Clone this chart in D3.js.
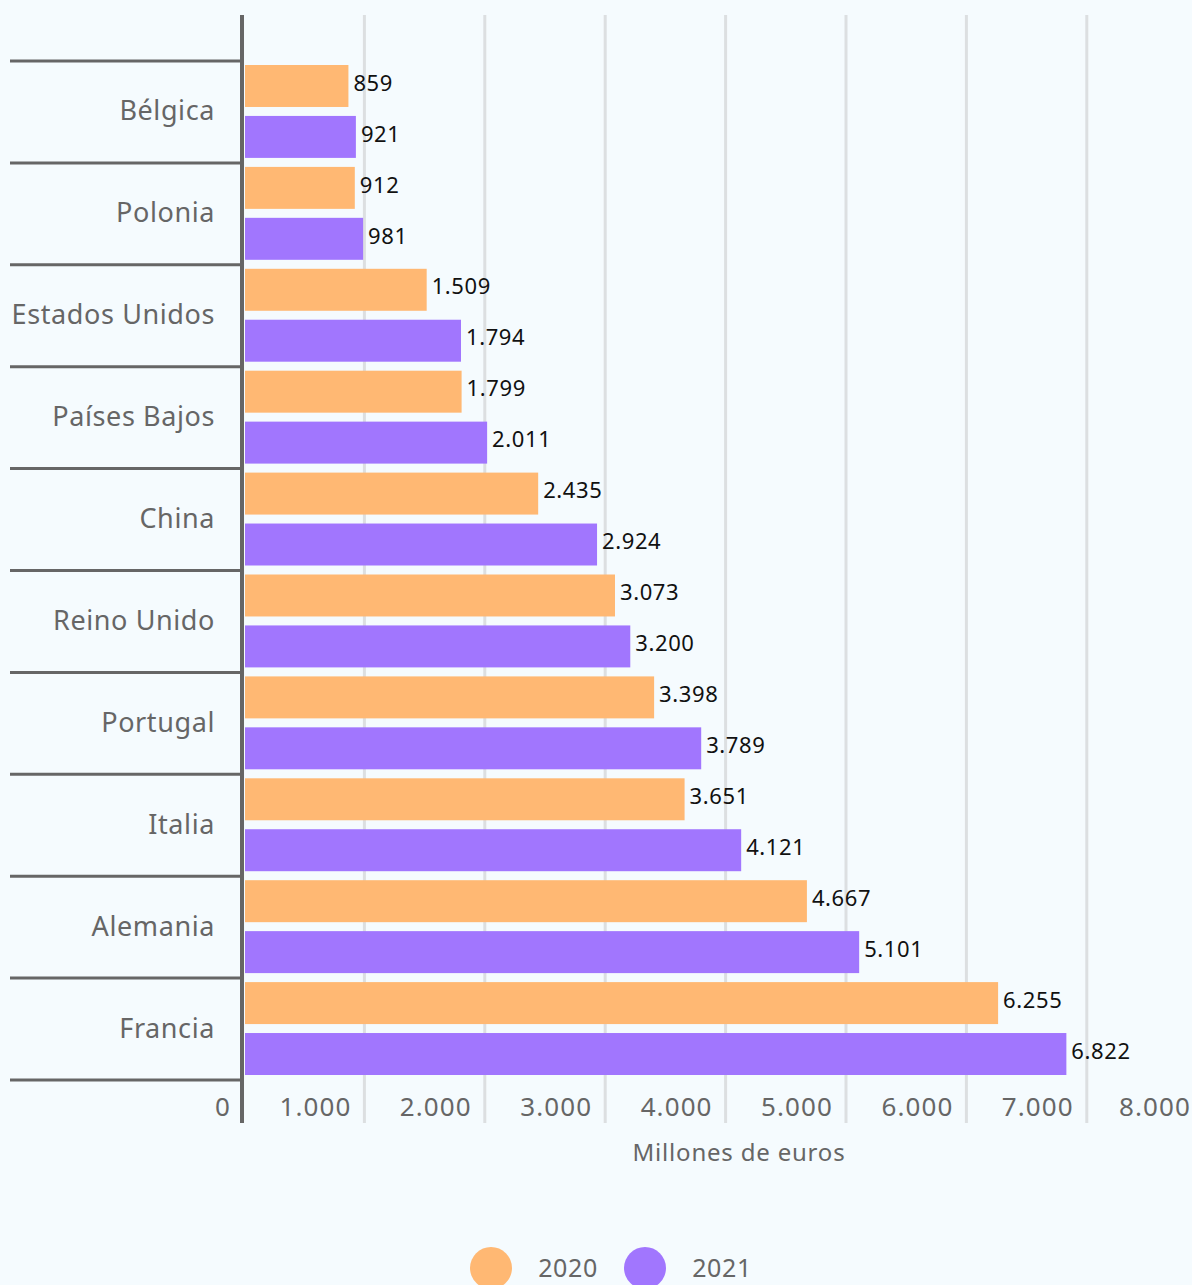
<!DOCTYPE html>
<html>
<head>
<meta charset="utf-8">
<script src="https://cdn.jsdelivr.net/npm/d3@7"></script>
<style>
  body { margin: 0; background: #f5fbfe; }
  svg { display: block; font-family: "Noto Sans", "Open Sans", sans-serif; }
</style>
</head>
<body>
<div id="chart"></div>
<script>
let width = 1192;
let height = 1285;

let countries = ["Bélgica", "Polonia", "Estados Unidos", "Países Bajos", "China",
  "Reino Unido", "Portugal", "Italia", "Alemania", "Francia"];
let years = ["2020", "2021"];
let values2020 = [859, 912, 1509, 1799, 2435, 3073, 3398, 3651, 4667, 6255];
let values2021 = [921, 981, 1794, 2011, 2924, 3200, 3789, 4121, 5101, 6822];
let xTicks = [0, 1000, 2000, 3000, 4000, 5000, 6000, 7000, 8000];
let colors = ["#ffb873", "#a176fe"];

let plotLeft = 245;
let plotTop = 61;
let plotBottom = 1080;

let fmt = d => d3.format(",")(d).replace(/,/g, ".");

let svg = d3.select("#chart")
  .append("svg")
  .attr("width", width)
  .attr("height", height);

let x = d3.scaleLinear().domain([0, 8000]).range([plotLeft, plotLeft + 8 * 120.4]);

let y = d3.scaleBand().domain(countries).range([plotTop, plotBottom]);

let inner = d3.scaleBand().domain(years).range([4, y.bandwidth() - 5]).paddingInner(0.176);

// grid lines
svg.append("g")
  .selectAll("line")
  .data(xTicks.slice(1))
  .join("line")
  .attr("x1", d => x(d) - 1).attr("x2", d => x(d) - 1)
  .attr("y1", 15).attr("y2", 1123)
  .attr("stroke", "#dcdfe1")
  .attr("stroke-width", 3);

// category separators
svg.append("g")
  .selectAll("line")
  .data(countries.concat(["end"]))
  .join("line")
  .attr("x1", 10).attr("x2", 242)
  .attr("y1", (d, i) => i < countries.length ? y(d) : plotBottom)
  .attr("y2", (d, i) => i < countries.length ? y(d) : plotBottom)
  .attr("stroke", "#666")
  .attr("stroke-width", 3);

// bars
let series = [values2020, values2021];
let groups = svg.append("g")
  .selectAll("g")
  .data(countries)
  .join("g")
  .attr("transform", d => "translate(0," + y(d) + ")");

groups.selectAll("rect")
  .data((d, i) => years.map((yr, j) => ({ yr: yr, v: series[j][i], j: j })))
  .join("rect")
  .attr("x", x(0))
  .attr("y", d => inner(d.yr))
  .attr("width", d => x(d.v) - x(0))
  .attr("height", inner.bandwidth())
  .attr("fill", d => colors[d.j]);

groups.selectAll("text.val")
  .data((d, i) => years.map((yr, j) => ({ yr: yr, v: series[j][i], j: j })))
  .join("text")
  .attr("class", "val")
  .attr("x", d => x(d.v) + 5)
  .attr("y", d => inner(d.yr) + inner.bandwidth() / 2 - 3)
  .attr("dy", "0.35em")
  .attr("font-size", 22)
  .attr("letter-spacing", 0.6)
  .attr("fill", "#111")
  .text(d => fmt(d.v));

// category labels
svg.append("g")
  .selectAll("text")
  .data(countries)
  .join("text")
  .attr("x", 215)
  .attr("y", d => y(d) + y.bandwidth() / 2 - 1)
  .attr("dy", "0.35em")
  .attr("text-anchor", "end")
  .attr("font-size", 27)
  .attr("letter-spacing", 0.6)
  .attr("fill", "#666")
  .text(d => d);

// axis line
svg.append("line")
  .attr("x1", 242).attr("x2", 242)
  .attr("y1", 15).attr("y2", 1123)
  .attr("stroke", "#666")
  .attr("stroke-width", 4);

// tick labels (last one kept inside the page like the reference)
svg.append("g")
  .selectAll("text")
  .data(xTicks)
  .join("text")
  .attr("x", d => Math.min(x(d) - 14, width - 1))
  .attr("y", 1107)
  .attr("dy", "0.35em")
  .attr("text-anchor", "end")
  .attr("font-size", 26)
  .attr("letter-spacing", 1.1)
  .attr("fill", "#666")
  .text(d => fmt(d));

svg.append("text")
  .attr("x", 739)
  .attr("y", 1153)
  .attr("dy", "0.35em")
  .attr("text-anchor", "middle")
  .attr("font-size", 24)
  .attr("letter-spacing", 0.8)
  .attr("fill", "#666")
  .text("Millones de euros");

// legend
let legend = svg.append("g")
  .selectAll("g")
  .data(years)
  .join("g")
  .attr("transform", (d, i) => "translate(" + (491 + i * 154) + ",1268)");

legend.append("circle")
  .attr("r", 21)
  .attr("fill", (d, i) => colors[i]);

legend.append("text")
  .attr("x", 77)
  .attr("dy", "0.35em")
  .attr("text-anchor", "middle")
  .attr("font-size", 25)
  .attr("letter-spacing", 0.6)
  .attr("fill", "#666")
  .text(d => d);
</script>
</body>
</html>
